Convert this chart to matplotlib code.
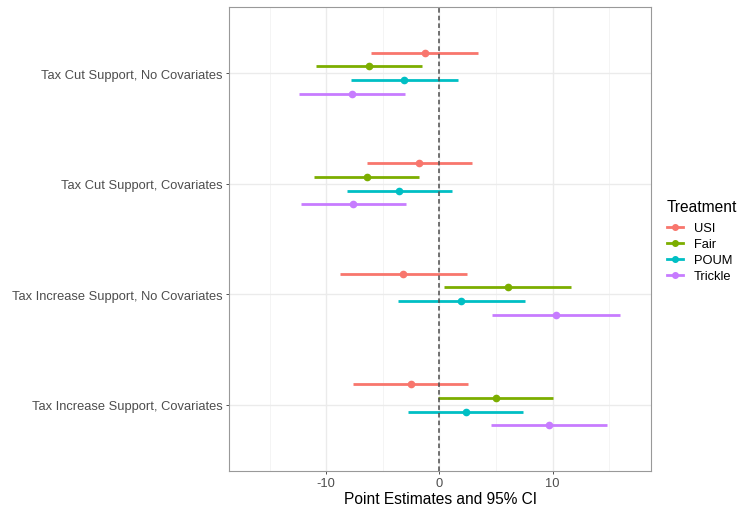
import numpy as np
import matplotlib
matplotlib.use("Agg")
import matplotlib.pyplot as plt
from matplotlib.lines import Line2D

plt.rcParams['font.family'] = ['Liberation Sans', 'DejaVu Sans']
plt.rcParams['axes.unicode_minus'] = False

# models, top to bottom
models = ["Tax Cut Support, No Covariates",
          "Tax Cut Support, Covariates",
          "Tax Increase Support, No Covariates",
          "Tax Increase Support, Covariates"]
treatments = ["USI", "Fair", "POUM", "Trickle"]
colors = ["#F8766D", "#7CAE00", "#00BFC4", "#C77CFF"]

# estimates per treatment, one value per model (same order as models)
est = {
    "USI":     [-1.30, -1.77, -3.18, -2.53],
    "Fair":    [-6.24, -6.42, 6.03, 4.97],
    "POUM":    [-3.15, -3.57, 1.94, 2.32],
    "Trickle": [-7.74, -7.63, 10.29, 9.71],
}
lo = {
    "USI":     [-6.04, -6.39, -8.83, -7.63],
    "Fair":    [-10.94, -11.07, 0.44, -0.09],
    "POUM":    [-7.83, -8.21, -3.65, -2.74],
    "Trickle": [-12.44, -12.27, 4.62, 4.59],
}
hi = {
    "USI":     [3.44, 2.88, 2.47, 2.56],
    "Fair":    [-1.56, -1.80, 11.62, 10.03],
    "POUM":    [1.62, 1.09, 7.53, 7.41],
    "Trickle": [-3.00, -2.95, 15.97, 14.83],
}

fig = plt.figure(figsize=(7.4, 5.06), dpi=100)
ax = fig.add_axes([229/740, 1 - 472/506, (651 - 229)/740, (472 - 8)/506])

ypos = np.arange(len(models))[::-1] + 1.0  # 4 at top
dodge = 0.5
offsets = np.array([3, 1, -1, -3]) * dodge / 8

for i, t in enumerate(treatments):
    y = ypos + offsets[i]
    ax.hlines(y, lo[t], hi[t], color=colors[i], lw=2.0, zorder=3)
    ax.plot(est[t], y, 'o', color=colors[i], ms=4.5, zorder=4)

ax.axvline(0, color="#4D4D4D", ls=(0, (3, 2)), lw=1.1, zorder=5)

ax.set_xlim(-18.6, 18.7)
ax.set_ylim(0.4, 4.6)
ax.set_xticks([-10, 0, 10])
ax.set_xticks([-15, -5, 5, 15], minor=True)
ax.set_yticks(ypos)
ax.set_yticklabels(models)
ax.grid(True, which='major', color="#EBEBEB", lw=1.0, zorder=0)
ax.grid(True, which='minor', axis='x', color="#F3F3F3", lw=0.6, zorder=0)
ax.set_axisbelow(True)
ax.tick_params(axis='both', which='major', length=2.5, color="#333333",
               labelcolor="#4D4D4D", labelsize=9.3, width=0.6, pad=2)
ax.tick_params(axis='both', which='minor', length=0)
for s in ax.spines.values():
    s.set_color("#999999")
    s.set_linewidth(0.8)
ax.set_xlabel("Point Estimates and 95% CI", fontsize=11.2, labelpad=1)

handles = [Line2D([0], [0], color=c, lw=2.0, marker='o', ms=4) for c in colors]
leg = fig.legend(handles, treatments, title="Treatment", loc='upper left',
                 bbox_to_anchor=(655/740, 1 - 188/506), frameon=False,
                 fontsize=9.3, title_fontsize=11.2, handlelength=1.3,
                 handletextpad=0.8, labelspacing=0.3)
leg._legend_box.align = "left"
leg._legend_box.sep = 6.3

fig.savefig("out.png", dpi=100)
